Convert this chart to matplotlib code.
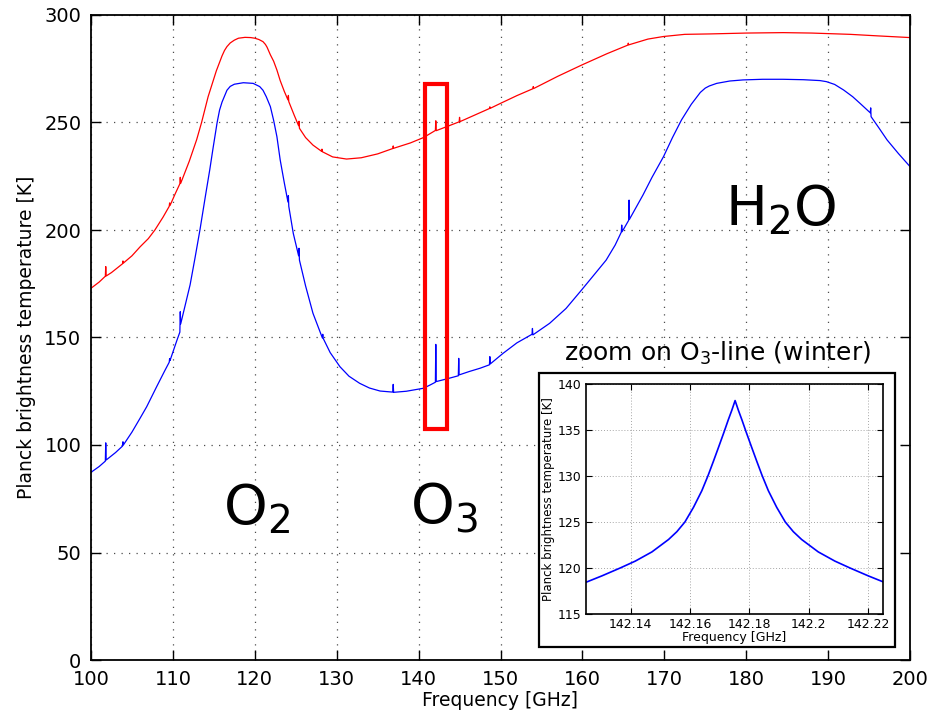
import matplotlib
matplotlib.use("Agg")
import matplotlib.pyplot as plt
from matplotlib.patches import Rectangle

# ---------------- data ----------------
summer_freq = [100.0, 101.0, 101.75, 101.8, 101.85, 102.5, 103.85, 103.9, 103.95,
               105.0, 106.0, 107.0, 107.8, 108.8, 109.55, 109.6, 109.65, 110.3,
               110.85, 110.9, 110.95, 112.0, 112.9, 113.5, 114.3, 115.3, 115.7,
               116.0, 116.3, 116.6, 117.0, 117.5, 118.0, 118.8, 119.5, 120.0,
               120.5, 121.0, 121.3, 121.5, 121.9, 122.3, 122.7, 123.1, 123.6,
               124.05, 124.1, 124.15, 124.8, 125.35, 125.4, 125.45, 126.2, 127.1,
               128.15, 128.2, 128.25, 129.5, 131.2, 133.0, 135.0, 136.85, 136.9,
               136.95, 139.0, 140.6, 142.05, 142.1, 142.15, 144.95, 145.0, 145.05,
               148.65, 148.7, 148.75, 150.0, 152.0, 153.95, 154.0, 154.05, 157.0,
               159.9, 163.0, 165.55, 165.6, 165.65, 168.0, 169.9, 172.5, 175.6,
               180.0, 184.5, 188.0, 192.7, 196.0, 200.0]
summer_temp = [172.9, 175.8, 178.5, 183.0, 178.6, 180.2, 184.3, 185.6, 184.6,
               188.0, 192.2, 196.0, 200.0, 206.0, 211.0, 212.6, 211.4, 217.0,
               221.5, 224.5, 221.7, 232.0, 242.0, 250.0, 262.0, 274.0, 278.0,
               281.0, 283.5, 285.3, 287.0, 288.3, 289.2, 289.6, 289.5, 289.2,
               288.6, 287.6, 286.3, 285.0, 281.5, 278.5, 274.4, 269.5, 264.5,
               260.5, 262.6, 259.7, 253.5, 248.5, 250.6, 247.3, 243.0, 239.5,
               236.6, 237.6, 236.4, 234.0, 233.0, 233.6, 235.4, 237.9, 239.1,
               238.0, 240.5, 243.0, 246.3, 250.8, 246.2, 250.3, 252.4, 250.4,
               256.5, 257.3, 256.6, 258.9, 262.5, 265.7, 266.7, 265.8, 271.5,
               276.7, 282.0, 286.0, 286.9, 286.1, 288.8, 290.0, 291.0, 291.2,
               291.6, 291.8, 291.6, 291.0, 290.3, 289.5]

winter_freq = [100.0, 101.0, 101.75, 101.8, 101.85, 103.0, 103.85, 103.9, 103.95,
               105.0, 106.0, 106.8, 108.0, 109.0, 109.55, 109.6, 109.65, 110.5,
               110.85, 110.9, 110.95, 111.5, 112.1, 112.7, 113.3, 114.0, 114.5,
               114.9, 115.4, 115.7, 116.0, 116.6, 117.0, 117.5, 118.6, 119.8,
               120.6, 121.0, 121.4, 121.9, 122.3, 122.7, 123.1, 123.6, 124.05,
               124.1, 124.15, 124.7, 125.35, 125.4, 125.45, 126.2, 127.1, 128.25,
               128.3, 128.35, 129.2, 130.4, 131.5, 132.8, 134.0, 135.3, 136.85,
               136.9, 136.95, 138.5, 140.6, 141.4, 142.05, 142.1, 142.15, 143.4,
               144.85, 144.9, 144.95, 146.2, 147.5, 148.65, 148.7, 148.75, 150.3,
               152.0, 153.85, 153.9, 153.95, 156.0, 158.0, 159.9, 161.5, 162.9,
               164.0, 164.75, 164.8, 164.85, 165.65, 165.7, 165.75, 167.4, 168.5,
               169.9, 171.0, 172.1, 173.3, 174.4, 175.0, 175.5, 176.4, 178.0,
               179.6, 182.0, 184.5, 187.0, 189.0, 189.8, 190.8, 191.9, 193.0,
               193.9, 195.15, 195.2, 195.25, 196.2, 197.2, 198.6, 200.0]
winter_temp = [87.3, 90.0, 92.5, 101.0, 93.0, 96.5, 99.5, 101.5, 100.0,
               106.0, 112.5, 117.8, 127.0, 134.5, 138.5, 140.2, 139.3, 148.8,
               152.5, 162.0, 156.3, 165.0, 174.5, 187.0, 200.0, 216.5, 228.0,
               238.0, 250.0, 255.8, 259.5, 265.0, 266.8, 267.8, 268.5, 268.2,
               266.7, 265.0, 262.0, 257.4, 251.0, 243.4, 232.6, 222.0, 213.0,
               216.0, 211.0, 198.4, 188.0, 191.5, 186.0, 174.0, 161.3, 149.8,
               151.5, 149.6, 143.0, 136.4, 132.0, 128.7, 126.5, 125.1, 124.6,
               128.2, 124.5, 125.0, 126.4, 127.9, 129.2, 146.8, 129.5, 130.7,
               132.2, 140.3, 132.6, 134.2, 135.7, 137.3, 141.1, 137.7, 142.6,
               147.5, 151.5, 154.2, 151.2, 156.6, 163.5, 172.1, 179.5, 186.0,
               193.0, 199.0, 202.3, 199.2, 204.5, 213.9, 205.0, 216.3, 224.5,
               234.1, 243.0, 251.2, 258.5, 264.0, 266.0, 267.0, 268.2, 269.3,
               269.8, 270.1, 270.1, 269.9, 269.5, 269.0, 267.7, 265.1, 262.0,
               258.9, 254.5, 256.8, 252.7, 247.5, 241.9, 235.5, 229.5]

zoom_freq = [142.125, 142.1304, 142.1365, 142.1416, 142.1472, 142.1528, 142.1556,
             142.1583, 142.1612, 142.1640, 142.1661, 142.1679, 142.1696, 142.1715,
             142.1729, 142.1741, 142.1752, 142.1763, 142.1775, 142.1789, 142.1808,
             142.1825, 142.1843, 142.1864, 142.1892, 142.1921, 142.1948, 142.1976,
             142.2032, 142.2088, 142.2139, 142.2200, 142.225]
zoom_temp = [118.45, 119.15, 120.0, 120.75, 121.75, 123.1, 123.95,
             125.0, 126.6, 128.4, 130.05, 131.6, 133.1, 134.8,
             136.1, 137.15, 138.2, 137.15, 136.1, 134.8, 133.1,
             131.6, 130.05, 128.4, 126.6, 125.0, 123.95, 123.1,
             121.75, 120.75, 120.0, 119.15, 118.5]

main_xticks = [100, 110, 120, 130, 140, 150, 160, 170, 180, 190, 200]
main_yticks = [0, 50, 100, 150, 200, 250, 300]
zoom_xticks = [142.14, 142.16, 142.18, 142.2, 142.22]
zoom_xticklabels = ["142.14", "142.16", "142.18", "142.2", "142.22"]
zoom_yticks = [115, 120, 125, 130, 135, 140]

# ---------------- figure ----------------
plt.rcParams['font.family'] = ['DejaVu Sans']
plt.rcParams['mathtext.fontset'] = 'dejavusans'

fig = plt.figure(figsize=(9.31, 7.22), dpi=100, facecolor='white')
ax = fig.add_axes([91/931, 1-660/722, (910-91)/931, (660-15)/722])

ax.plot(summer_freq, summer_temp, color='red', lw=0.9)
ax.plot(winter_freq, winter_temp, color='blue', lw=0.9)

ax.set_xlim(100, 200)
ax.set_ylim(0, 300)
ax.set_xticks(main_xticks)
ax.set_yticks(main_yticks)
ax.tick_params(direction='in', top=True, right=True, length=7, width=1,
               labelsize=14, pad=7)
for s in ax.spines.values():
    s.set_linewidth(1.3)
ax.grid(True, color='k', linestyle=(0, (1, 5)), linewidth=0.9, alpha=0.7)
ax.set_xlabel('Frequency [GHz]', fontsize=13.5, labelpad=2)
ax.set_ylabel('Planck brightness temperature [K]', fontsize=13.5, labelpad=6)

# red box marking the O3 line region
ax.add_patch(Rectangle((140.8, 107.5), 2.7, 160.5, fill=False,
                       edgecolor='red', linewidth=3, zorder=5))

ax.text(116.1, 63.3, r'O$_2$', fontsize=40, ha='left', va='baseline')
ax.text(139.0, 63.3, r'O$_3$', fontsize=40, ha='left', va='baseline')
ax.text(177.4, 202.3, r'H$_2$O', fontsize=40, ha='left', va='baseline')

# inset frame
fig.patches.append(Rectangle((539/931, 1-647/722), 356/931, 274/722,
                             transform=fig.transFigure, facecolor='white',
                             edgecolor='black', linewidth=1.6, zorder=3))
fig.text(718/931, 1-361/722, r'zoom on O$_3$-line (winter)', fontsize=18,
         ha='center', va='baseline')

axi = fig.add_axes([586/931, 1-614/722, (883-586)/931, (614-384)/722])
axi.set_zorder(4)
axi.plot(zoom_freq, zoom_temp, color='blue', lw=1.2)
axi.set_xlim(142.125, 142.225)
axi.set_ylim(115, 140)
axi.set_xticks(zoom_xticks)
axi.set_xticklabels(zoom_xticklabels)
axi.set_yticks(zoom_yticks)
axi.tick_params(direction='in', top=True, right=True, length=4, width=0.8,
                labelsize=9, pad=3)
for s in axi.spines.values():
    s.set_linewidth(1.2)
axi.grid(True, color='0.5', linestyle=(0, (1, 2)), linewidth=0.7, alpha=0.7)
axi.set_xlabel('Frequency [GHz]', fontsize=9, labelpad=0)
axi.set_ylabel('Planck brightness temperature [K]', fontsize=8.5, labelpad=2)

fig.savefig('out.png', dpi=100, facecolor='white')
